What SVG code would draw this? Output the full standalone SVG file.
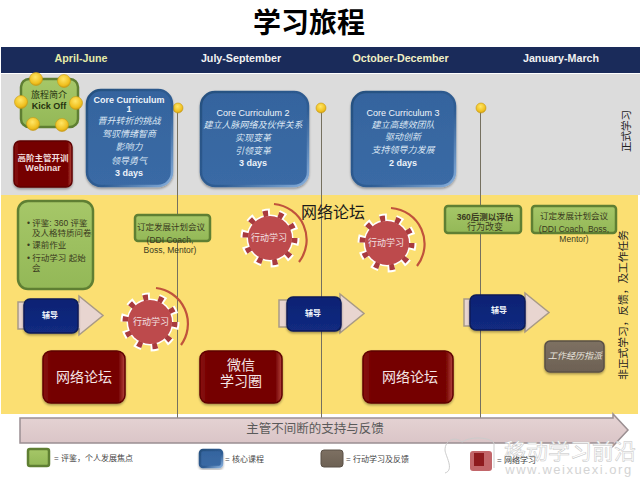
<svg xmlns="http://www.w3.org/2000/svg" xmlns:xlink="http://www.w3.org/1999/xlink" width="641" height="481" viewBox="0 0 641 481">
<style>
text{font-family:"Liberation Sans","Noto Sans CJK SC",sans-serif;text-anchor:middle}
.m{font-size:10.700px;font-weight:bold}
.w{fill:#f2f6fb;font-size:9px}
.wi{fill:#dbe6f3;font-size:9px;font-style:italic}
.wb{fill:#eef3fa;font-size:9px;font-weight:bold}
.d{fill:#3a3a20;font-size:9px}
.l{fill:#444;font-size:8px;text-anchor:start}
.big{fill:#f5e6e6;font-size:14px}
.g{fill:url(#gr);stroke:#5f7f33;stroke-width:2.5}
.b{fill:url(#bl);stroke:url(#blS);stroke-width:2.5;filter:url(#s)}
.r{fill:url(#rd);stroke:#5f0000;stroke-width:1.5;filter:url(#s)}
.n{fill:url(#nv);stroke:#0b1c57;stroke-width:1.5;filter:url(#s)}
.a{fill:#e8d5d0;stroke:#a89a86;stroke-width:1.5}
.v{stroke:#75705f;stroke-width:1;fill:none}
.arc{fill:none;stroke:#c0533c;stroke-width:2.2}
.dot{fill:url(#yl);stroke:#c79a12;stroke-width:.6}
.gt{fill:#f3e3e3;font-size:9px}
</style>
<defs>
<linearGradient id="gr" x1="0" y1="0" x2="0" y2="1"><stop offset="0" stop-color="#a6c768"/><stop offset="1" stop-color="#93b857"/></linearGradient>
<linearGradient id="bl" x1="0" y1="0" x2="0" y2="1"><stop offset="0" stop-color="#35649e"/><stop offset="1" stop-color="#3a6aa5"/></linearGradient>
<linearGradient id="blS" x1="0" y1="0" x2="1" y2="1"><stop offset="0" stop-color="#26507f"/><stop offset=".6" stop-color="#2f5d94"/><stop offset="1" stop-color="#86aedb"/></linearGradient>
<linearGradient id="rd" x1="0" y1="0" x2="1" y2="0"><stop offset="0" stop-color="#8a1212"/><stop offset=".1" stop-color="#740000"/><stop offset=".92" stop-color="#740000"/><stop offset="1" stop-color="#b5473f"/></linearGradient>
<linearGradient id="nv" x1="0" y1="0" x2="0" y2="1"><stop offset="0" stop-color="#0e2274"/><stop offset="1" stop-color="#122a80"/></linearGradient>
<linearGradient id="br" x1="0" y1="0" x2="0" y2="1"><stop offset="0" stop-color="#7d7062"/><stop offset="1" stop-color="#6d6154"/></linearGradient>
<linearGradient id="bar" x1="0" y1="0" x2="0" y2="1"><stop offset="0" stop-color="#e6d4d4"/><stop offset="1" stop-color="#d9c4c6"/></linearGradient>
<radialGradient id="yl" cx=".45" cy=".35" r=".7"><stop offset="0" stop-color="#ffe666"/><stop offset=".7" stop-color="#efbf1e"/><stop offset="1" stop-color="#c08f10"/></radialGradient>
<filter id="s" x="-10%" y="-10%" width="120%" height="125%"><feDropShadow dx="0" dy="1.500" stdDeviation="1.200" flood-color="#000" flood-opacity=".35"/></filter>
<g id="gear">
<circle r="25" fill="none" stroke="#fff" stroke-width="9" stroke-dasharray="7 8.700"/>
<circle r="23.500" fill="#fff"/>
<circle r="24.500" fill="none" stroke="#a83a3e" stroke-width="6" stroke-dasharray="5 10.390"/>
<circle r="22" fill="#bd4a4c"/>
</g>
<path id="arrow" d="M0 6H61V0L85 19.500L61 39V33H0Z"/>
</defs>
<rect width="641" height="481" fill="#fff"/>
<text id="title" x="309" y="33" style="font-size:28px;font-weight:bold;fill:#000">学习旅程</text>
<g id="bands">
<rect x="1" y="47" width="639" height="26" fill="#1a2b5a"/>
<rect x="1" y="74" width="639" height="121" fill="#dcdcdc"/>
<rect x="1" y="195" width="637" height="219" fill="#fbdf72"/>
</g>
<g id="months">
<text class="m" x="81" y="62" fill="#e6eba8">April-June</text>
<text class="m" x="241" y="62" fill="#f2f2f2">July-September</text>
<text class="m" x="400.500" y="62" fill="#f0f0c4">October-December</text>
<text class="m" x="561" y="62" fill="#f2f2f2">January-March</text>
</g>
<g id="connectors">
<path class="v" d="M177.500 112V418M321.500 112V418M480.500 112V418"/>
<circle class="dot" cx="178" cy="108" r="5"/>
<circle class="dot" cx="321" cy="108" r="5"/>
<circle class="dot" cx="481" cy="108" r="5"/>
</g>
<g id="side-labels">
<text transform="translate(630 131) rotate(-90)" style="font-size:10.500px;fill:#222">正式学习</text>
<text transform="translate(627 305) rotate(-90)" style="font-size:10.700px;fill:#222">非正式学习，反馈，及工作任务</text>
</g>
<g id="kickoff">
<rect class="g" x="21" y="79" width="57" height="48" rx="8"/>
<circle class="dot" cx="36" cy="79" r="6.500"/><circle class="dot" cx="64" cy="81" r="6.500"/><circle class="dot" cx="76" cy="103" r="6.500"/>
<circle class="dot" cx="62" cy="125" r="6.500"/><circle class="dot" cx="33" cy="124" r="6.500"/><circle class="dot" cx="21" cy="102" r="6.500"/>
<text x="49" y="98" class="d" style="fill:#26320f">旅程简介</text><text x="49" y="109" class="d" style="font-weight:bold;fill:#26320f">Kick Off</text>
</g>
<g id="webinar">
<rect class="r" x="14" y="141" width="58" height="46" rx="6"/>
<text x="43" y="161" class="wb" style="font-size:8.500px;fill:#f0dcdc">高阶主管开训</text><text x="43" y="171" class="wb" style="fill:#f0dcdc">Webinar</text>
</g>
<g id="cc1">
<rect class="b" x="87" y="90" width="85" height="96" rx="14"/>
<text x="129" y="103" class="wb">Core Curriculum</text><text x="129" y="112" class="wb">1</text>
<text x="129" y="124" class="wi">晋升转折的挑战</text><text x="129" y="137" class="wi">驾驭情绪智商</text><text x="129" y="150" class="wi">影响力</text><text x="129" y="164" class="wi">领导勇气</text><text x="129" y="176" class="wb">3 days</text>
</g>
<g id="cc2">
<rect class="b" x="201" y="92" width="107" height="94" rx="14"/>
<text x="253" y="116" class="w">Core Curriculum  2</text>
<text x="253" y="128" class="wi">建立人脉网络及伙伴关系</text><text x="253" y="141" class="wi">实现变革</text><text x="253" y="154" class="wi">引领变革</text><text x="253" y="166" class="wb">3 days</text>
</g>
<g id="cc3">
<rect class="b" x="352" y="92" width="103" height="94" rx="14"/>
<text x="403" y="116" class="w">Core Curriculum  3</text>
<text x="403" y="128" class="wi">建立高绩效团队</text><text x="403" y="140" class="wi">驱动创新</text><text x="403" y="153" class="wi">支持领导力发展</text><text x="403" y="166" class="wb">2 days</text>
</g>
<g id="assess">
<rect class="g" x="18" y="201" width="75" height="88" rx="10"/>
<text x="27" y="226" class="d" style="text-anchor:start;font-size:8.500px">• 评鉴: 360 评鉴</text>
<text x="32" y="236" class="d" style="text-anchor:start;font-size:8.500px">及人格特质问卷</text>
<text x="27" y="248" class="d" style="text-anchor:start;font-size:8.500px">• 课前作业</text>
<text x="27" y="261" class="d" style="text-anchor:start;font-size:8.500px">• 行动学习 起始</text>
<text x="32" y="271" class="d" style="text-anchor:start;font-size:8.500px">会</text>
</g>
<g id="plan1">
<rect class="g" x="135" y="215" width="75" height="26" rx="3"/>
<text x="171" y="230" class="d" style="font-size:8.500px">订定发展计划会议</text>
<text x="170" y="243" class="d" style="font-size:8.500px">(DDI Coach,</text><text x="170" y="253" class="d" style="font-size:8.500px">Boss, Mentor)</text>
</g>
<g id="coach1"><use xlink:href="#arrow" href="#arrow" class="a" transform="translate(18 296)"/><rect class="n" x="24" y="299" width="54" height="34" rx="6"/><text x="50" y="318" class="wb" style="font-size:8px">辅导</text></g>
<g id="coach2"><use xlink:href="#arrow" href="#arrow" class="a" transform="translate(279 294)"/><rect class="n" x="287" y="297" width="54" height="34" rx="6"/><text x="313" y="316" class="wb" style="font-size:8px">辅导</text></g>
<g id="coach3"><use xlink:href="#arrow" href="#arrow" class="a" transform="translate(464 293)"/><rect class="n" x="470" y="295" width="55" height="35" rx="6"/><text x="499" y="313" class="wb" style="font-size:8px">辅导</text></g>
<g id="action1"><path class="arc" d="M156 288A36 36 0 0 1 181 345"/><use xlink:href="#gear" href="#gear" transform="translate(150 322)"/><text x="151" y="325" class="gt">行动学习</text></g>
<g id="action2"><path class="arc" d="M274 204A36 36 0 0 1 299 262"/><use xlink:href="#gear" href="#gear" transform="translate(270 238)"/><text x="269" y="241" class="gt">行动学习</text></g>
<g id="action3"><path class="arc" d="M391 208A36 36 0 0 1 417 266"/><use xlink:href="#gear" href="#gear" transform="translate(387 243)"/><text x="386" y="246" class="gt">行动学习</text></g>
<text id="forum-title" x="333" y="218" style="font-size:16px;fill:#1a1a1a">网络论坛</text>
<g id="post"><rect class="g" x="445" y="206" width="76" height="27" rx="3"/><text x="485" y="220" class="d" style="font-weight:bold;font-size:8.500px">360后测以评估</text><text x="485" y="230" class="d">行为改变</text></g>
<g id="plan2"><rect class="g" x="532" y="206" width="84" height="27" rx="3"/><text x="574" y="219" class="d" style="font-size:8.500px">订定发展计划会议</text><text x="574" y="232" class="d" style="font-size:8.500px">(DDI Coach, Boss,</text><text x="574" y="242" class="d" style="font-size:8.500px">Mentor)</text></g>
<g id="assign"><rect x="545" y="341" width="59" height="31" rx="5" fill="url(#br)" stroke="#5a5046" stroke-width="1.500" filter="url(#s)"/><text x="575" y="359" class="wi" style="fill:#e8e4dc">工作经历指派</text></g>
<g id="forum1"><rect class="r" x="43" y="351" width="82" height="52" rx="8"/><text x="84" y="382" class="big">网络论坛</text></g>
<g id="wechat"><rect class="r" x="200" y="351" width="82" height="52" rx="8"/><text x="241" y="370" class="big">微信</text><text x="241" y="386" class="big">学习圈</text></g>
<g id="forum2"><rect class="r" x="363" y="351" width="90" height="52" rx="8"/><text x="410" y="382" class="big">网络论坛</text></g>
<g id="support">
<path d="M20 418H613V414L628 430L613 446V443H20Z" fill="url(#bar)" stroke="#9b8f92" stroke-width="1.500"/>
<text x="315" y="433" style="font-size:12.500px;fill:#5a5a5a">主管不间断的支持与反馈</text>
</g>
<g id="watermark" fill="none" stroke="#ccc" stroke-width="1">
<path d="M445 473C455 470 445 455 445 450C445 440 455 436 462 442C470 436 490 437 494 443M494 443V468"/>
<text x="570" y="459" style="font-size:22px;fill:#fff;stroke:#c4c4c4;stroke-width:.5">移动学习前沿</text>
<text x="569" y="474" style="font-size:13px;letter-spacing:1.500px;fill:#d4d4d4;stroke:none">www.weixuexi.org</text>
</g>
<g id="legend">
<rect class="g" x="28" y="449" width="21" height="17" rx="2"/><text class="l" x="54" y="461">= 评鉴，个人发展焦点</text>
<rect class="b" x="200" y="450" width="22" height="17" rx="3"/><text class="l" x="225" y="462">= 核心课程</text>
<rect x="321" y="450" width="22" height="17" rx="3" fill="url(#br)" stroke="#5a5046"/><text class="l" x="346" y="462">= 行动学习及反馈</text>
<rect x="470" y="451" width="22" height="20" rx="3" fill="#c2666a"/><rect x="474" y="453" width="10" height="13" fill="#8e1a1e"/><text class="l" x="497" y="463">= 网络学习</text>
</g>
</svg>
